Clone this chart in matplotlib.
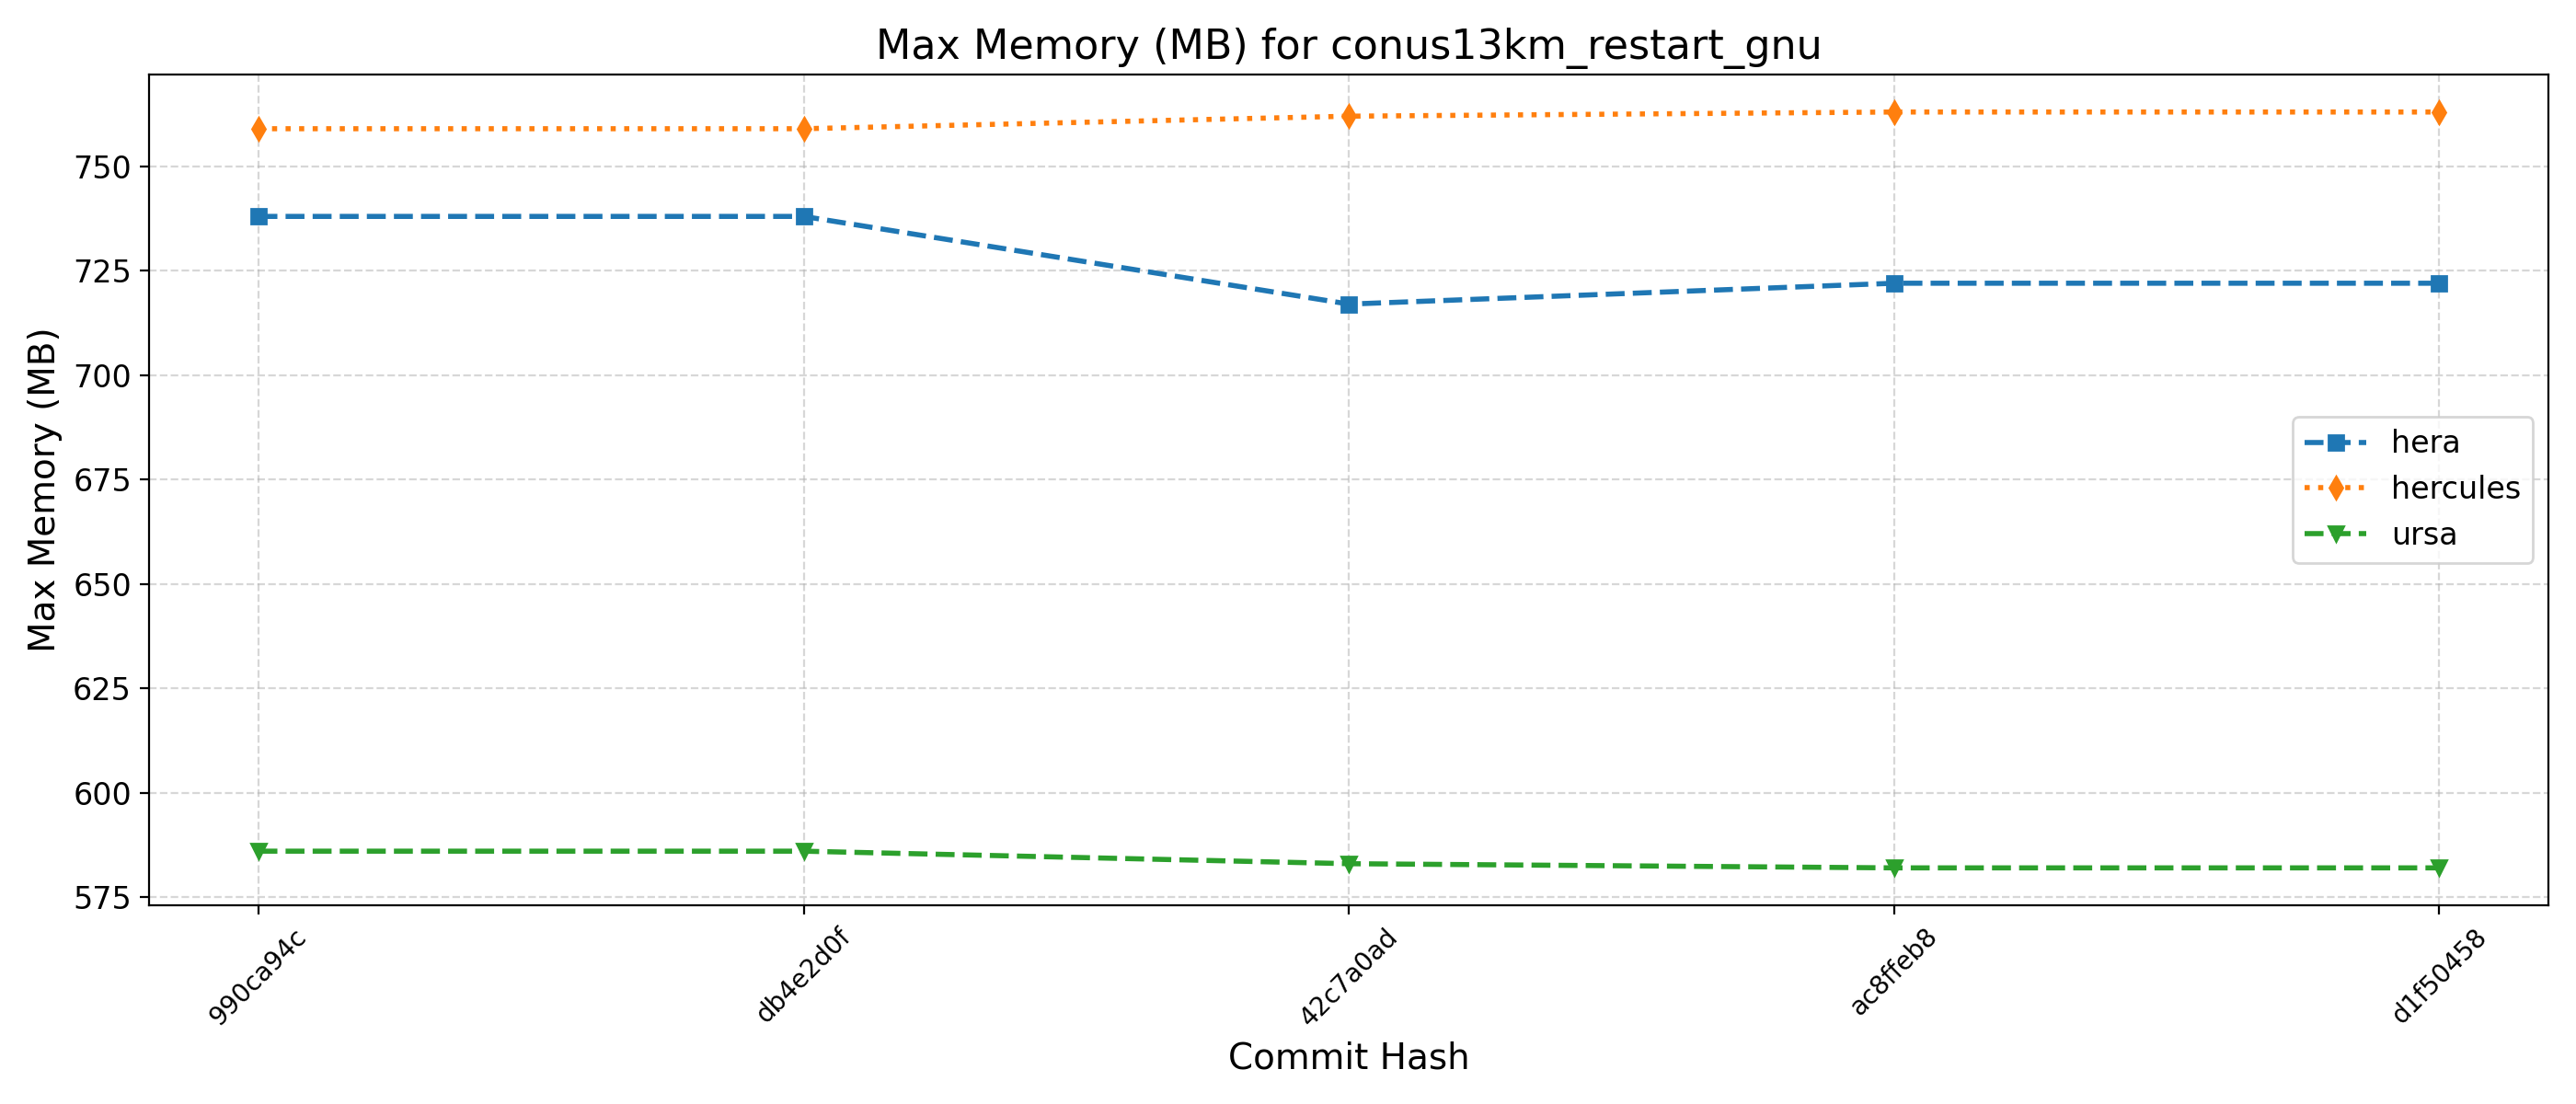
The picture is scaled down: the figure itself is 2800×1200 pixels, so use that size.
import matplotlib
matplotlib.use("Agg")
import matplotlib.pyplot as plt

# commits along the x axis
commits = ["990ca94c", "db4e2d0f", "42c7a0ad", "ac8ffeb8", "d1f50458"]

# max memory per machine (MB)
hera = [738, 738, 717, 722, 722]
hercules = [759, 759, 762, 763, 763]
ursa = [586, 586, 583, 582, 582]

series = [
    ("hera", hera, "--", "s"),
    ("hercules", hercules, ":", "d"),
    ("ursa", ursa, "--", "v"),
]

fig, ax = plt.subplots(figsize=(14, 6), dpi=200)

for name, vals, ls, mk in series:
    ax.plot(commits, vals, linestyle=ls, marker=mk, linewidth=2, label=name)

ax.set_title("Max Memory (MB) for conus13km_restart_gnu", fontsize=16)
ax.set_xlabel("Commit Hash", fontsize=14)
ax.set_ylabel("Max Memory (MB)", fontsize=14)
plt.xticks(rotation=45, fontsize=10)
plt.yticks(fontsize=12)
ax.grid(True, linestyle="--", alpha=0.5)
ax.legend(loc="center right", fontsize=12)

plt.tight_layout()
plt.savefig("out.png")
